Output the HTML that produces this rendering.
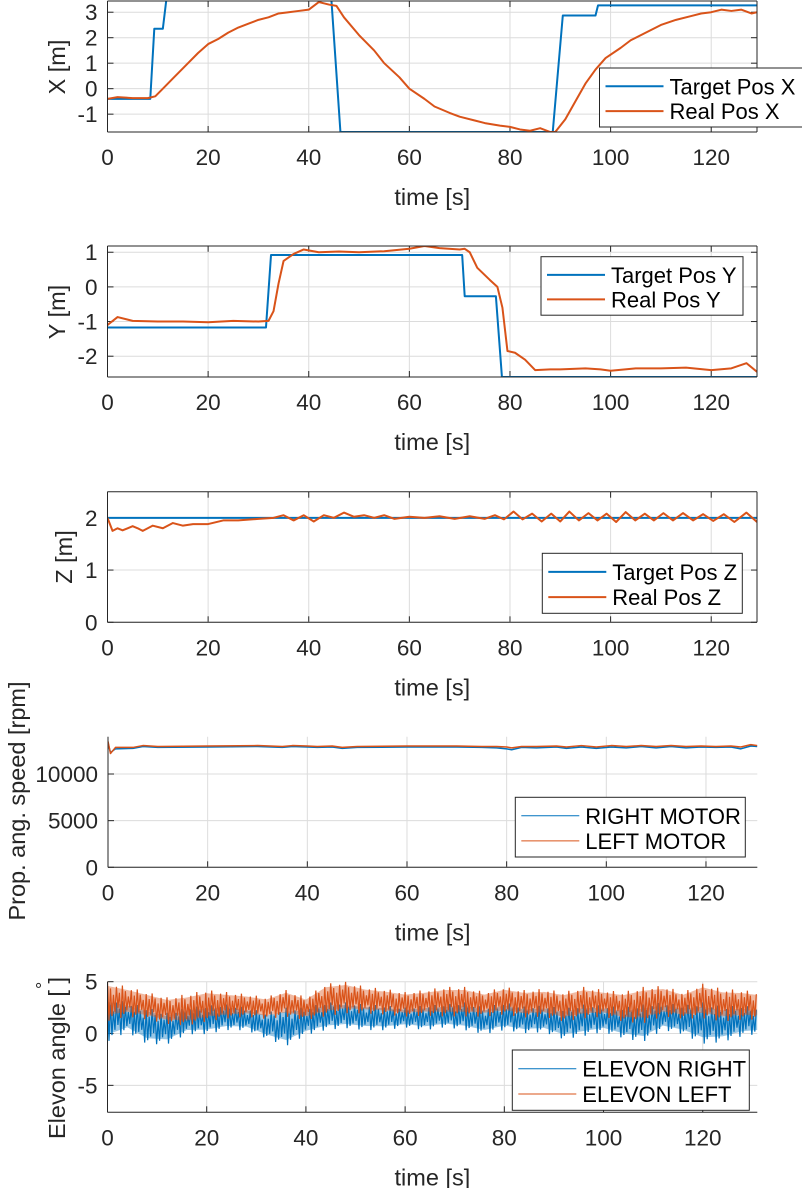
<!DOCTYPE html>
<html><head><meta charset="utf-8"><style>
html,body{margin:0;padding:0;background:#fff;}
svg{display:block;font-family:"Liberation Sans",Arial,sans-serif;}
</style></head><body>
<svg id="fig" width="802" height="1188" viewBox="0 0 802 1188" xmlns="http://www.w3.org/2000/svg"></svg>
<script>
// ---------- data ----------
const xTicks = [0,20,40,60,80,100,120];
const p1YTicks = [-1,0,1,2,3];
const p2YTicks = [-2,-1,0,1];
const p3YTicks = [0,1,2];
const p4YTicks = [0,5000,10000];
const p5YTicks = [-5,0,5];

const targetXt = [0,8.5,9.3,11,11.7,44.5,46.3,88.5,90.5,97,97.5,129.1];
const targetXv = [-0.4,-0.4,2.35,2.35,3.5,3.5,-1.7,-1.7,2.87,2.87,3.27,3.27];
const realXt = [0,2,5,8,9.5,11,13,16,18,20,22,24,26,28,30,32,34,36,38,40,42,43,44,45.5,47,50,53,55,58,60,63,65,68,70,73,75,78,80,82,84,86,88,89,91,93,95,97,99,102,104,107,110,113,116,118,120,122,124,126,128,129.1];
const realXv = [-0.4,-0.33,-0.37,-0.37,-0.3,0,0.4,1.0,1.4,1.75,1.95,2.2,2.4,2.55,2.7,2.8,2.95,3.0,3.05,3.1,3.4,3.35,3.3,3.25,2.8,2.1,1.5,1.0,0.45,0.0,-0.4,-0.7,-0.95,-1.1,-1.25,-1.35,-1.45,-1.5,-1.6,-1.65,-1.55,-1.7,-1.7,-1.2,-0.5,0.2,0.75,1.2,1.6,1.9,2.2,2.5,2.7,2.85,2.95,3.0,3.1,3.05,3.1,2.95,3.0];

const targetYt = [0,31.5,32.5,70.5,71,77.2,78.4,129.1];
const targetYv = [-1.17,-1.17,0.92,0.92,-0.27,-0.27,-2.6,-2.6];
const realYt = [0,2,5,10,15,20,25,30,32,33,34,35,37,39,42,46,50,55,60,63,66,70,71,72,73.5,76,77.5,78.5,79.5,81,83,85,88,90,95,98,100,105,110,115,120,124,127,129.1];
const realYv = [-1.1,-0.87,-0.98,-1.0,-1.0,-1.02,-0.98,-1.0,-0.98,-0.7,0.1,0.75,0.95,1.08,1.0,1.02,1.0,1.03,1.1,1.18,1.12,1.08,1.1,1.0,0.55,0.2,0.0,-0.6,-1.85,-1.9,-2.1,-2.4,-2.38,-2.38,-2.35,-2.38,-2.42,-2.35,-2.35,-2.33,-2.4,-2.35,-2.2,-2.45];

const targetZt = [0,129.1];
const targetZv = [2,2];
const realZt = [0,1,2,3,4,5,6,7,9,11,13,15,17,20,23,26,30,33,35,37,39,41,43,45,47,49,51,53,55,57,60,63,66,69,72,75,77,78.8,80.7,82.5,84.4,86.3,88.2,90,91.8,93.7,95.6,97.4,99.2,101.1,103,104.9,106.8,108.6,110.5,112.4,114.4,116.4,118.4,120.4,122.5,124.6,127,129.1];
const realZv = [2.0,1.75,1.8,1.76,1.8,1.84,1.8,1.75,1.85,1.8,1.9,1.85,1.88,1.88,1.95,1.95,1.98,2.0,2.05,1.95,2.05,1.93,2.05,2.0,2.1,2.02,2.05,2.0,2.05,1.98,2.02,2.0,2.03,1.98,2.03,1.98,2.05,1.97,2.12,1.97,2.08,1.93,2.08,1.93,2.12,1.95,2.09,1.95,2.08,1.92,2.11,1.95,2.08,1.95,2.09,1.95,2.09,1.95,2.07,1.94,2.07,1.92,2.1,1.92];

const motorT = [0,0.5,1.5,5,7,10,20,30,35,37,40,42,45,47,50,60,70,75,78,80,81,83,86,90,92,95,98,101,104,107,110,113,116,119,122,125,127,129,130.3];
const rightMotor = [13300,12300,12700,12750,12950,12850,12900,12950,12850,12950,12900,12850,12900,12750,12850,12900,12900,12850,12800,12700,12600,12850,12800,12900,12750,12900,12750,12900,12800,12950,12800,12950,12800,12900,12850,12900,12700,13000,12950];
const leftMotor = [13500,12200,12850,12850,13050,12950,13000,13050,12950,13050,13000,12950,13000,12850,12950,13000,13000,12950,12950,12900,12800,12950,12950,13000,12900,13050,12900,13050,12950,13050,12950,13050,12950,13000,12950,13000,12900,13150,13050];

const elevT = [0,4,8,12,16,20,24,28,32,36,40,44,48,52,56,60,64,68,72,76,80,84,88,92,96,100,104,108,112,116,120,124,128,131];
const leftHi = [5,4.5,4,3.5,3.8,4.2,4,3.8,3.5,4.2,3.5,4.8,5,4.5,4.3,4,4.2,4.5,4.5,4,4.5,4.2,4.3,4,4.5,4.2,4,4.5,4.6,4,4.8,4.3,4.2,4];
const leftLo = [1,1.5,1.2,0.8,0.6,1.0,1.3,1.5,1.3,1.5,1.2,1.5,1.8,1.8,1.7,1.5,1.6,1.5,1.5,1.5,1.7,1.4,1.5,1.0,1.3,1.5,1.0,0.8,1.5,1.3,1.3,1.0,1.2,1.2];
const rightHi = [3.5,3,2.5,2,2.5,2.7,2.8,2.5,2,2.5,2.5,3,3,2.8,2.7,2.5,2.7,2.8,3,2.5,3,2.6,2.7,2.4,2.8,2.7,2.5,2.8,3,2.7,3,2.6,2.7,2.5];
const rightLo = [-1.0,0,-1.2,-1.2,-0.2,-0.2,0.2,0.2,-0.6,-1.4,-0.3,0.2,0.4,0.2,0.2,0.5,0.2,0.5,0.2,-0.2,0.2,-0.1,0,-0.7,-0.4,0,-0.6,-1.0,0.2,-0.2,-1.2,-1.0,-0.4,-0.2];

// ---------- helpers ----------
const NS='http://www.w3.org/2000/svg';
const svg=document.getElementById('fig');
const BLUE='#0072BD', ORANGE='#D95319', INK='#262626';
function mk(tag,attrs,parent){const e=document.createElementNS(NS,tag);for(const k in attrs)e.setAttribute(k,attrs[k]);(parent||svg).appendChild(e);return e;}
function axis(o){
  const g=mk('g',{});
  
  
  o.g=g;
  o.sx=v=>o.L+(v-o.x0)/(o.x1-o.x0)*(o.R-o.L);
  o.sy=v=>o.B-(v-o.y0)/(o.y1-o.y0)*(o.B-o.T);
  const cid='clip-'+o.name;
  const cp=mk('clipPath',{id:cid},g);mk('rect',{x:o.L,y:o.T,width:o.R-o.L,height:o.B-o.T},cp);
  o.clip='url(#'+cid+')';
  xTicks.forEach(t=>{const x=o.sx(t);
    const gl=mk('line',{x1:x,x2:x,y1:o.T,y2:o.B,stroke:'#dcdcdc','stroke-width':1},g);
    
    mk('line',{x1:x,x2:x,y1:o.B,y2:o.B-6,stroke:INK,'stroke-width':1},g);
    if(o.box) mk('line',{x1:x,x2:x,y1:o.T,y2:o.T+6,stroke:INK,'stroke-width':1},g);
    const tl=mk('text',{x:x,y:o.B+33,'text-anchor':'middle','font-size':22.5,fill:INK},g);tl.textContent=t;
    
  });
  o.yt.forEach(t=>{const y=o.sy(t);
    const gl=mk('line',{x1:o.L,x2:o.R,y1:y,y2:y,stroke:'#dcdcdc','stroke-width':1},g);
    
    mk('line',{x1:o.L,x2:o.L+6,y1:y,y2:y,stroke:INK,'stroke-width':1},g);
    if(o.box) mk('line',{x1:o.R,x2:o.R-6,y1:y,y2:y,stroke:INK,'stroke-width':1},g);
    const tl=mk('text',{x:o.L-10,y:y+8,'text-anchor':'end','font-size':22.5,fill:INK},g);tl.textContent=t;
    
  });
  const xl=mk('text',{x:(o.L+o.R)/2,y:o.B+73,'text-anchor':'middle','font-size':23.5,fill:INK},g);xl.textContent='time [s]';
  
  const yl=mk('text',{x:0,y:0,'text-anchor':'middle','font-size':23.5,fill:INK,transform:'translate('+(o.ylx+8)+','+o.yly+') rotate(-90)'},g);
  
  if(o.deg){yl.textContent='Elevon angle [ ]';const d=mk('tspan',{dx:-12,dy:-16,'font-size':18},yl);d.textContent='°';}
  else yl.textContent=o.ylabel;
  return o;
}
function frame(o){
  const g=o.g;
  mk('line',{x1:o.L,x2:o.L,y1:o.T,y2:o.B,stroke:INK,'stroke-width':1},g);
  mk('line',{x1:o.L,x2:o.R,y1:o.B,y2:o.B,stroke:INK,'stroke-width':1},g);
  if(o.box){mk('line',{x1:o.L,x2:o.R,y1:o.T,y2:o.T,stroke:INK,'stroke-width':1},g);
    mk('line',{x1:o.R,x2:o.R,y1:o.T,y2:o.B,stroke:INK,'stroke-width':1},g);}
}
function series(o,ts,vs,color,w,name){
  let d='';const n=Math.min(ts.length,vs.length);
  for(let i=0;i<n;i++)d+=(i?'L':'M')+o.sx(ts[i]).toFixed(2)+','+o.sy(vs[i]).toFixed(2);
  const p=mk('path',{d:d,fill:'none',stroke:color,'stroke-width':w,'stroke-linejoin':'round','clip-path':o.clip},o.g);
  
}
function band(o,ts,hi,lo,color,name){
  const n=Math.min(ts.length,hi.length,lo.length);
  let d='';
  for(let i=0;i<n;i++)d+=(i?'L':'M')+o.sx(ts[i]).toFixed(2)+','+o.sy(hi[i]*0.9+lo[i]*0.1).toFixed(2);
  for(let i=n-1;i>=0;i--)d+='L'+o.sx(ts[i]).toFixed(2)+','+o.sy(lo[i]*0.8+hi[i]*0.2).toFixed(2);
  const p=mk('path',{d:d+'Z',fill:color,'fill-opacity':0.4,stroke:'none','clip-path':o.clip},o.g);
  
  let z='';let k=0;const t1=ts[n-1];
  for(let t=ts[0];t<=t1;t+=0.3,k++){
    let j=0;while(j<n-2&&ts[j+1]<t)j++;
    const f=(t-ts[j])/(ts[j+1]-ts[j]);
    const h=hi[j]+(hi[j+1]-hi[j])*f, l=lo[j]+(lo[j+1]-lo[j])*f;
    const v=(k%2)?l+(h-l)*(0.05+0.3*((k>>1)%4)/3):h-(h-l)*(0.0+0.3*((k*7>>1)%5)/4);
    z+=(k?'L':'M')+o.sx(t).toFixed(2)+','+o.sy(v).toFixed(2);
  }
  const p2=mk('path',{d:z,fill:'none',stroke:color,'stroke-width':1.2,'clip-path':o.clip},o.g);
  
}
function legend(o,x,y,w,h,items,lw,name){
  const g=mk('g',{},o.g);
  
  mk('rect',{x:x,y:y,width:w,height:h,fill:'#fff',stroke:INK,'stroke-width':1},g);
  items.forEach((it,i)=>{const cy=y+h*(0.31+0.42*i);
    mk('line',{x1:x+6,x2:x+64,y1:cy,y2:cy,stroke:it[1],'stroke-width':lw},g);
    const t=mk('text',{x:x+70,y:cy+8,'font-size':22,fill:'#000'},g);t.textContent=it[0];
    
  });
}

// ---------- plot 1 ----------
const a1=axis({name:'x-position-plot',L:107.5,R:757,T:1,B:132,x0:0,x1:129.1,y0:-1.7,y1:3.44,yt:p1YTicks,box:true,ylabel:'X [m]',ylx:57,yly:67});
series(a1,targetXt,targetXv,BLUE,2,'target-pos-x-line');
series(a1,realXt,realXv,ORANGE,2,'real-pos-x-line');
frame(a1);
legend(a1,599.5,68,210,59,[['Target Pos X',BLUE],['Real Pos X',ORANGE]],2,'legend-x');

// ---------- plot 2 ----------
const a2=axis({name:'y-position-plot',L:107.5,R:757,T:246,B:377,x0:0,x1:129.1,y0:-2.6,y1:1.18,yt:p2YTicks,box:true,ylabel:'Y [m]',ylx:57,yly:312});
series(a2,targetYt,targetYv,BLUE,2,'target-pos-y-line');
series(a2,realYt,realYv,ORANGE,2,'real-pos-y-line');
frame(a2);
legend(a2,541,256.7,202,58.5,[['Target Pos Y',BLUE],['Real Pos Y',ORANGE]],2,'legend-y');

// ---------- plot 3 ----------
const a3=axis({name:'z-position-plot',L:107.5,R:757,T:491.7,B:622.3,x0:0,x1:129.1,y0:0,y1:2.5,yt:p3YTicks,box:true,ylabel:'Z [m]',ylx:64,yly:557});
series(a3,targetZt,targetZv,BLUE,2,'target-pos-z-line');
series(a3,realZt,realZv,ORANGE,2,'real-pos-z-line');
frame(a3);
legend(a3,542.3,553.3,200,60,[['Target Pos Z',BLUE],['Real Pos Z',ORANGE]],2,'legend-z');

// ---------- plot 4 ----------
const a4=axis({name:'motor-speed-plot',L:108,R:757.3,T:736.7,B:867.3,x0:0,x1:130.3,y0:0,y1:14000,yt:p4YTicks,box:false,ylabel:'Prop. ang. speed [rpm]',ylx:17,yly:801});
series(a4,motorT,rightMotor,BLUE,1.5,'right-motor-line');
series(a4,motorT,leftMotor,ORANGE,1.5,'left-motor-line');
frame(a4);
legend(a4,515.3,797.3,230,59.7,[['RIGHT MOTOR',BLUE],['LEFT MOTOR',ORANGE]],1,'legend-motor');

// ---------- plot 5 ----------
const a5=axis({name:'elevon-angle-plot',L:107.5,R:757.3,T:981.7,B:1112.3,x0:0,x1:131,y0:-7.6,y1:5,yt:p5YTicks,box:false,deg:true,ylx:57,yly:1058});
band(a5,elevT,rightHi,rightLo,BLUE,'elevon-right-line');
band(a5,elevT,leftHi,leftLo,ORANGE,'elevon-left-line');
frame(a5);
legend(a5,512.3,1050,237,60.3,[['ELEVON RIGHT',BLUE],['ELEVON LEFT',ORANGE]],1,'legend-elevon');
</script>
</body></html>
